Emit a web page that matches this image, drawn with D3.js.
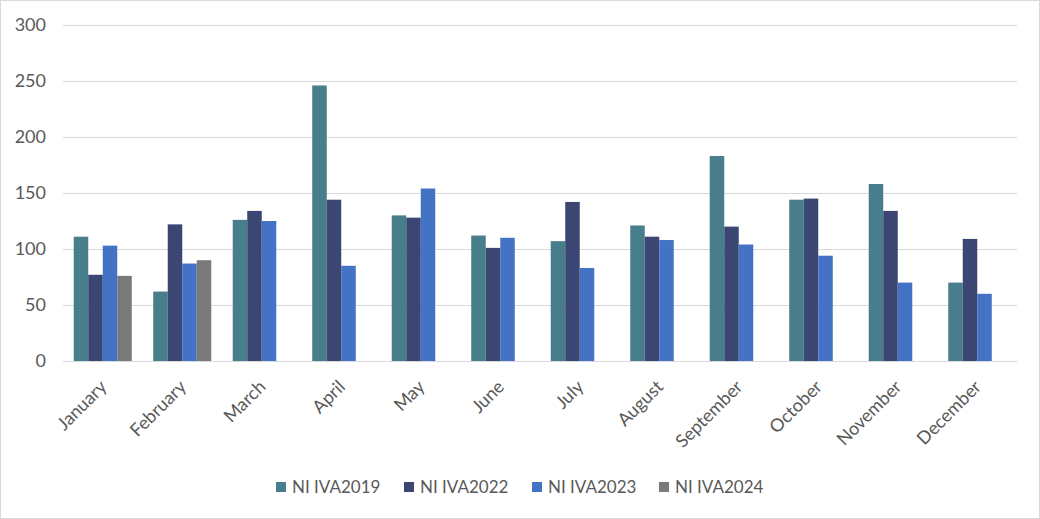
<!DOCTYPE html>
<html>
<head>
<meta charset="utf-8">
<script src="https://cdn.jsdelivr.net/npm/d3@7"></script>
<style>
  html, body { margin: 0; padding: 0; background: #fff; }
  svg { display: block; }
  text { font-family: Lato, "Open Sans", "Liberation Sans", sans-serif; fill: #595959; }
</style>
</head>
<body>
<svg id="chart" width="1040" height="519"></svg>
<script>
const months = ["January","February","March","April","May","June","July","August","September","October","November","December"];
const seriesNames = ["NI IVA2019","NI IVA2022","NI IVA2023","NI IVA2024"];
const iva2019 = [111, 62, 126, 246, 130, 112, 107, 121, 183, 144, 158, 70];
const iva2022 = [77, 122, 134, 144, 128, 101, 142, 111, 120, 145, 134, 109];
const iva2023 = [103, 87, 125, 85, 154, 110, 83, 108, 104, 94, 70, 60];
const iva2024 = [76, 90, null, null, null, null, null, null, null, null, null, null];
const yTicks = [0, 50, 100, 150, 200, 250, 300];
const colors = ["#487d8b", "#3c4673", "#4472c4", "#7a7a7a"];

const seriesValues = [iva2019, iva2022, iva2023, iva2024];

(function draw() {
const svg = d3.select("#chart");
const W = 1040, H = 519;
const pLeft = 63, pRight = 1017, pTop = 25, pBottom = 361;

svg.append("rect").attr("x", 0.5).attr("y", 0.5).attr("width", W - 1).attr("height", H - 1)
  .attr("fill", "#fff").attr("stroke", "#d9d9d9");

const x = d3.scaleBand().domain(months).range([pLeft, pRight]).paddingInner(0.27).paddingOuter(0.135);
const xs = d3.scaleBand().domain(d3.range(seriesNames.length)).range([0, x.bandwidth()]);
const y = d3.scaleLinear().domain([0, 300]).range([pBottom, pTop]);

const grid = svg.append("g")
  .attr("transform", `translate(${pLeft},0)`)
  .call(d3.axisLeft(y).tickValues(yTicks).tickSize(-(pRight - pLeft)).tickFormat(""));
grid.select(".domain").remove();
grid.selectAll(".tick line").attr("stroke", "#d9d9d9").attr("stroke-width", 1);

const yAxis = svg.append("g")
  .attr("transform", `translate(46,0)`)
  .call(d3.axisLeft(y).tickValues(yTicks).tickSize(0).tickPadding(0));
yAxis.select(".domain").remove();
yAxis.selectAll("text").attr("font-size", 18).style("fill", "#595959").style("font-family", "Lato, 'Open Sans', sans-serif");

const groups = svg.append("g").selectAll("g")
  .data(seriesValues)
  .join("g")
  .attr("fill", (d, i) => colors[i]);

groups.each(function(vals, si) {
  d3.select(this).selectAll("rect")
    .data(months.map((m, mi) => ({ m, v: vals[mi] })).filter(d => d.v != null))
    .join("rect")
    .attr("x", d => x(d.m) + xs(si))
    .attr("width", xs.bandwidth())
    .attr("y", d => y(d.v))
    .attr("height", d => y(0) - y(d.v));
});

const xAxis = svg.append("g")
  .attr("transform", `translate(0,${pBottom})`)
  .call(d3.axisBottom(x).tickSize(0).tickPadding(0));
xAxis.select(".domain").attr("stroke", "#d9d9d9");
xAxis.selectAll("text")
  .attr("font-size", 18)
  .attr("text-anchor", "end")
  .attr("dy", 0)
  .attr("y", 0)
  .attr("transform", "translate(5,27) rotate(-45)")
  .style("fill", "#595959")
  .style("font-family", "Lato, 'Open Sans', sans-serif");

const legendX = [276, 404, 532, 659];
const legend = svg.append("g").selectAll("g")
  .data(seriesNames)
  .join("g")
  .attr("transform", (d, i) => `translate(${legendX[i]},482)`);
legend.append("rect").attr("width", 10).attr("height", 10).attr("fill", (d, i) => colors[i]);
legend.append("text").attr("x", 16).attr("y", 11).attr("font-size", 17).text(d => d);
})();
</script>
</body>
</html>
